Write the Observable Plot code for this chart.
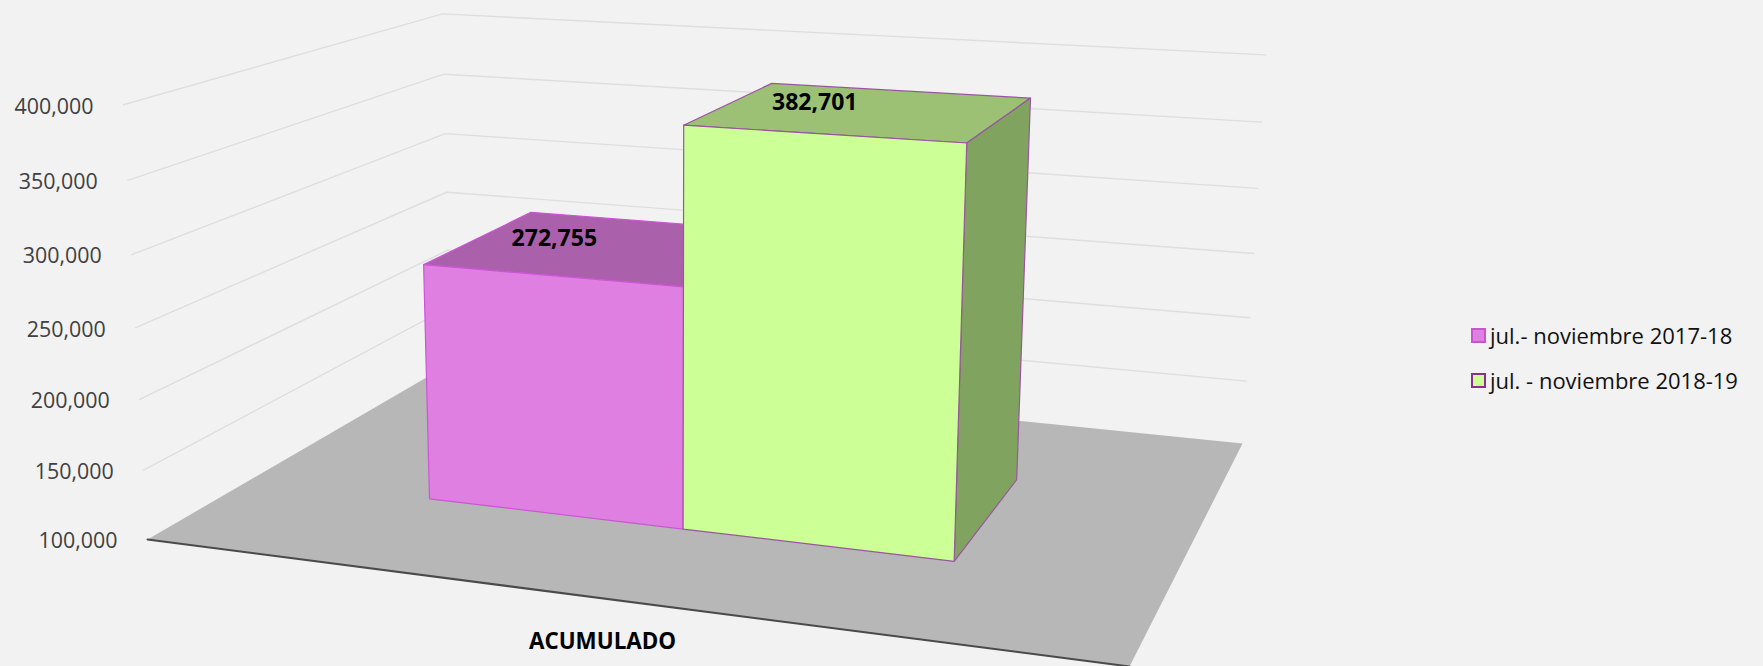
<!DOCTYPE html>
<html><head><meta charset="utf-8">
<script src="https://cdn.jsdelivr.net/npm/d3@7"></script>
<script src="https://cdn.jsdelivr.net/npm/@observablehq/plot@0.6"></script>
<style>
html,body{margin:0;padding:0;background:#f2f2f2;}
#wrap{position:relative;width:1763px;height:666px;overflow:hidden;font-family:"Open Sans",sans-serif;}
.lg{position:absolute;left:1471px;display:flex;align-items:center;height:20px;color:#111;font-size:22px;white-space:nowrap;}
.lg i{display:block;box-sizing:border-box;width:15px;height:15px;margin-right:4px;border:2px solid;}
</style></head><body><div id="wrap"></div>
<script>
const category = "ACUMULADO";
const seriesNames = ["jul.- noviembre 2017-18", "jul. - noviembre 2018-19"];
const seriesValues = [272755, 382701];
const tickValues = [100000, 150000, 200000, 250000, 300000, 350000, 400000];
const frontColors = ["#df7fe2", "#ccff95"];
const topColors = ["#aa60aa", "#9cc175"];
const sideColors = ["#885088", "#80a45f"];
const edgeColors = ["#cc55d5", "#9a55a0"];

// camera: 3D plot box (u across, v depth, w = share of the value axis) to screen
const camX = {u:848.1, v:418.6, c:147, w:-29.4, rw:-0.044};
const camY = {u:48.0, v:-82.8, c:539, w:-440, rw:-0.05, uw:-5};
const persp = {u:-0.11863, v:0.25682};
const W = d3.scaleLinear([100000,400000],[0,1]);
function P(u,v,val){
  const w=W(val), d=persp.u*u+persp.v*v+1;
  return {
    x:(camX.u*u+camX.v*v+camX.c+camX.w*w)/(d+camX.rw*w),
    y:(camY.u*u+camY.v*v+camY.c+camY.w*w+camY.uw*u*w)/(d+camY.rw*w)
  };
}
const base=tickValues[0];
const gap=0.2108, barW=0.2871, v0=0.3, v1=0.69;

const floor=[P(0,0,base),P(1,0,base),P(1,1,base),P(0,1,base)];
const frontEdge=[P(0,0,base),P(1,0,base)];
const grid=tickValues.slice(1).flatMap(t=>[P(0,0,t),P(0,1,t),P(1,1,t)].map(p=>({...p,t})));

const faces=[];
seriesValues.forEach((val,i)=>{
  const a=gap+i*barW,b=a+barW;
  const add=(name,pts,fill)=>pts.forEach(p=>faces.push({...p,face:i+name,fill,stroke:edgeColors[i]}));
  add("top",[P(a,v0,val),P(b,v0,val),P(b,v1,val),P(a,v1,val)],topColors[i]);
  add("side",[P(b,v0,base),P(b,v1,base),P(b,v1,val),P(b,v0,val)],sideColors[i]);
  add("front",[P(a,v0,base),P(b,v0,base),P(b,v0,val),P(a,v0,val)],frontColors[i]);
});
const valueLabels=seriesValues.map((val,i)=>({...P(gap+(i+.5)*barW,(v0+v1)/2,val),label:d3.format(",")(val)}));
const tickLabels=tickValues.map(t=>({...P(0,0,t),label:d3.format(",")(t)}));
const catLabel=[{...P(.5,0,base),label:category}];

const plot=Plot.plot({
  width:1763,height:666,margin:0,
  x:{domain:[0,1763],range:[0,1763],axis:null},
  y:{domain:[0,666],range:[0,666],axis:null},
  style:{background:"#f2f2f2",fontFamily:"'Open Sans',sans-serif"},
  marks:[
    Plot.line(grid,{x:"x",y:"y",z:"t",stroke:"#dedede",strokeWidth:1.4}),
    Plot.line(floor,{x:"x",y:"y",fill:"#b7b7b7",stroke:"none",curve:"linear-closed"}),
    Plot.line(frontEdge,{x:"x",y:"y",stroke:"#4a4a4a",strokeWidth:2}),
    Plot.line(faces,{x:"x",y:"y",z:"face",fill:"fill",stroke:"stroke",strokeWidth:1.2,curve:"linear-closed"}),
    Plot.text(tickLabels,{x:"x",y:"y",text:"label",dx:-30,dy:2,textAnchor:"end",fontSize:21.4,fill:"#404040"}),
    Plot.text(valueLabels,{x:"x",y:"y",text:"label",dx:-48,dy:-9,fontSize:23,fontWeight:700,fill:"#000"}),
    Plot.text(catLabel,{x:"x",y:"y",text:"label",dx:-5,dy:43,fontSize:22.4,fontWeight:700,fill:"#000"})
  ]
});
const wrap=document.getElementById("wrap");
wrap.appendChild(plot);
const legendBorder=["#c855cf","#8a2f90"];
seriesNames.forEach((n,i)=>{
  const d=document.createElement("div");d.className="lg";d.style.top=(i?370:325)+"px";
  const s=document.createElement("i");s.style.background=frontColors[i];s.style.borderColor=legendBorder[i];
  d.appendChild(s);d.appendChild(document.createTextNode(n));wrap.appendChild(d);
});
</script></body></html>
